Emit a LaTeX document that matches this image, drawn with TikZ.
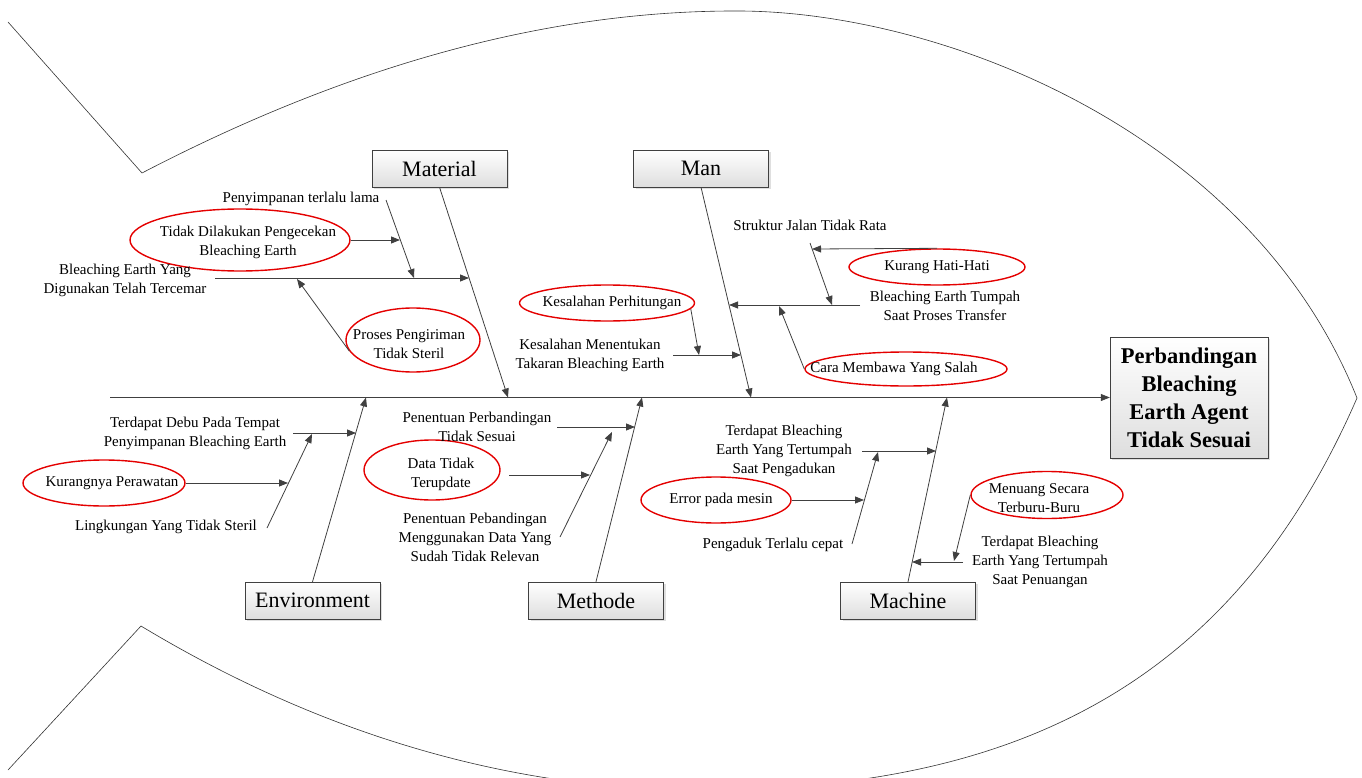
\documentclass[tikz,border=0pt]{standalone}
\usepackage{fontspec}
\setmainfont{Liberation Serif}
\usetikzlibrary{arrows.meta, shapes.geometric, shadows}
\definecolor{dark}{RGB}{64, 64, 64}
\definecolor{ellred}{RGB}{228, 0, 0}
\definecolor{boxshade}{RGB}{222, 222, 222}
\tikzset{
    box/.style={rectangle, draw=dark, top color=white, bottom color=boxshade, drop shadow={opacity=0.25, shadow xshift=2pt, shadow yshift=-2pt}, minimum width=135pt, minimum height=37pt, inner sep=0pt, font=\fontsize{22}{26}\selectfont},
    headbox/.style={box, minimum width=158pt, minimum height=121pt, align=center, font=\fontsize{22.5}{28}\selectfont\bfseries},
    ell/.style={ellipse, draw=ellred, line width=1.4pt, inner sep=0pt},
    lbl/.style={align=center, inner sep=0pt, font=\fontsize{15}{19}\selectfont},
    arr/.style={-{Triangle[length=9pt, width=7pt]}, line width=0.8pt, dark},
    outline/.style={line width=0.6pt, black!80}
}

\begin{document}
\begin{tikzpicture}[x=1pt, y=-1pt]
    \useasboundingbox (0,0) rectangle (1362,778);
    \begin{scope}
        \clip (0,0) rectangle (1362,778);
        \draw[outline] (8,22) -- (142,173) .. controls (340,70) and (540,10) .. (740,11) .. controls (940,12) and (1250,130) .. (1357,398);
        \draw[outline] (8,770) -- (141,626) .. controls (330,740) and (520,790) .. (700,790) .. controls (1000,790) and (1227,697) .. (1357,398);
    \end{scope}

    \node[headbox] (head) at (1189,397.5) {Perbandingan\\Bleaching\\Earth Agent\\Tidak Sesuai};
    \node[box] (mat) at (439.5,168.5) {Material};
    \node[box] (man) at (701,168.5) {Man};
    \node[box] (env) at (312.5,600.5) {Environment};
    \node[box] (met) at (596,600.5) {Methode};
    \node[box] (mac) at (908,600.5) {Machine};

    \node[ell, minimum width=220pt, minimum height=62pt, label={[lbl, xshift=8pt, yshift=-2pt]center:Tidak Dilakukan Pengecekan\\Bleaching Earth}] (cek) at (240,240) {};
    \node[ell, minimum width=134pt, minimum height=64pt, label={[lbl, xshift=-4pt, yshift=-4pt]center:Proses Pengiriman\\Tidak Steril}] (kirim) at (413,340) {};
    \node[ell, minimum width=175pt, minimum height=36pt, label={[lbl, xshift=5pt]center:Kesalahan Perhitungan}] (hitung) at (607,303) {};
    \node[ell, minimum width=176pt, minimum height=36pt, label={[lbl]center:Kurang Hati-Hati}] (hati) at (937,267) {};
    \node[ell, minimum width=202pt, minimum height=34pt, label={[lbl, xshift=-12pt]center:Cara Membawa Yang Salah}] (bawa) at (906,369) {};
    \node[ell, minimum width=162pt, minimum height=46pt, label={[lbl, xshift=8pt]center:Kurangnya Perawatan}] (rawat) at (104,483) {};
    \node[ell, minimum width=136pt, minimum height=60pt, label={[lbl, xshift=9pt, yshift=-4pt]center:Data Tidak\\Terupdate}] (update) at (432,470) {};
    \node[ell, minimum width=150pt, minimum height=46pt, label={[lbl, xshift=5pt]center:Error pada mesin}] (error) at (716,500) {};
    \node[ell, minimum width=152pt, minimum height=47pt, label={[lbl, xshift=-8pt, yshift=-3pt]center:Menuang Secara\\Terburu-Buru}] (tuang) at (1047,495) {};

    \node[lbl] (simpan) at (301,199) {Penyimpanan terlalu lama};
    \node[lbl] (cemar) at (125,280) {Bleaching Earth Yang\\Digunakan Telah Tercemar};
    \node[lbl] (jalan) at (810,225) {Struktur Jalan Tidak Rata};
    \node[lbl] (tumpah) at (945,306) {Bleaching Earth Tumpah\\Saat Proses Transfer};
    \node[lbl] (takar) at (590,355) {Kesalahan Menentukan\\Takaran Bleaching Earth};
    \node[lbl] (debu) at (195,433) {Terdapat Debu Pada Tempat\\Penyimpanan Bleaching Earth};
    \node[lbl] (steril) at (166,527) {Lingkungan Yang Tidak Steril};
    \node[lbl] (sesuai) at (477,427) {Penentuan Perbandingan\\Tidak Sesuai};
    \node[lbl] (relevan) at (475,537) {Penentuan Pebandingan\\Menggunakan Data Yang\\Sudah Tidak Relevan};
    \node[lbl] (aduk) at (784,451) {Terdapat Bleaching\\Earth Yang Tertumpah\\Saat Pengadukan};
    \node[lbl] (cepat) at (773,545) {Pengaduk Terlalu cepat};
    \node[lbl] (penuang) at (1040,562) {Terdapat Bleaching\\Earth Yang Tertumpah\\Saat Penuangan};

    \coordinate (tail) at (110,397.5);
    \coordinate (matT) at (508,397.5);
    \coordinate (manT) at (751,397.5);
    \coordinate (envT) at (366,397.5);
    \coordinate (metT) at (642,397.5);
    \coordinate (macT) at (947,397.5);

    \coordinate (cemarS) at (215,278);
    \coordinate (matA) at (469,278);
    \coordinate (simpanS) at (386,200);
    \coordinate (simpanT) at (414,278);
    \coordinate (simpanA) at (400,240);
    \coordinate (cemarA) at (297,279);

    \coordinate (tumpahS) at (860,305);
    \coordinate (manA) at (729,305);
    \coordinate (jalanS) at (810,243);
    \coordinate (jalanT) at (832,305);
    \coordinate (jalanA) at (812,249);
    \coordinate (tumpahA) at (779,306);
    \coordinate (takarS) at (673,355);
    \coordinate (manB) at (741,355);
    \coordinate (takarA) at (699,355);

    \coordinate (debuS) at (293,433);
    \coordinate (envA) at (356,433);
    \coordinate (sterilS) at (267,528);
    \coordinate (sterilT) at (312,434);
    \coordinate (sterilA) at (288,483);

    \coordinate (sesuaiS) at (557,427);
    \coordinate (metA) at (635,427);
    \coordinate (relevanS) at (560,537);
    \coordinate (relevanT) at (612,432);
    \coordinate (updateS) at (509,475);
    \coordinate (relevanA) at (590,475);

    \coordinate (adukS) at (862,451);
    \coordinate (macA) at (936,451);
    \coordinate (cepatS) at (852,544);
    \coordinate (cepatT) at (878,452);
    \coordinate (cepatA) at (864,500);
    \coordinate (penuangS) at (963,562);
    \coordinate (macB) at (912,562);
    \coordinate (penuangA) at (954,561);

    \draw[arr] (tail) -- (head.west);
    \draw[arr] (mat.south) -- (matT);
    \draw[arr] (man.south) -- (manT);
    \draw[arr] (env.north) -- (envT);
    \draw[arr] (met.north) -- (metT);
    \draw[arr] (mac.north) -- (macT);

    \draw[arr] (cemarS) -- (matA);
    \draw[arr] (simpanS) -- (simpanT);
    \draw[arr] (cek.east) -- (simpanA);
    \draw[arr] (kirim.190) -- (cemarA);

    \draw[arr] (tumpahS) -- (manA);
    \draw[arr] (jalanS) -- (jalanT);
    \draw[arr] (hati.north) -- (jalanA);
    \draw[arr] (bawa.west) -- (tumpahA);
    \draw[arr] (takarS) -- (manB);
    \draw[arr] (hitung.-4) -- (takarA);

    \draw[arr] (debuS) -- (envA);
    \draw[arr] (sterilS) -- (sterilT);
    \draw[arr] (rawat.east) -- (sterilA);

    \draw[arr] (sesuaiS) -- (metA);
    \draw[arr] (relevanS) -- (relevanT);
    \draw[arr] (updateS) -- (relevanA);

    \draw[arr] (adukS) -- (macA);
    \draw[arr] (cepatS) -- (cepatT);
    \draw[arr] (error.east) -- (cepatA);
    \draw[arr] (penuangS) -- (macB);
    \draw[arr] (tuang.west) -- (penuangA);
\end{tikzpicture}
\end{document}
